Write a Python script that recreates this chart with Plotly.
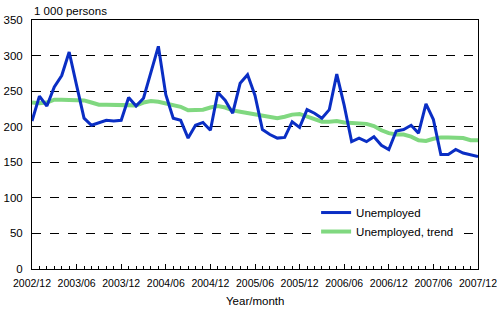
import plotly.graph_objects as go

months = []
for y in range(2002, 2008):
    for m in range(1, 13):
        if (y == 2002 and m < 12):
            continue
        months.append(f"{y}/{m:02d}")

unemployed = [208, 243, 229, 256, 272, 305, 258, 212, 202, 206, 209, 208,
              209, 241, 229, 240, 275, 313, 245, 212, 209, 184, 202, 206,
              195, 248, 237, 219, 261, 273, 244, 196, 189, 184, 185, 207,
              199, 224, 219, 212, 224, 274, 230, 179, 184, 179, 186, 174,
              168, 194, 196, 202, 191, 232, 210, 161, 161, 168, 163, 161,
              158]

trend = [234, 233, 234, 238, 238, 238, 238, 237, 234, 231, 231, 231,
         231, 230, 230, 234, 236, 235, 233, 230, 228, 223, 223, 224,
         227, 229, 227, 223, 221, 219, 217, 216, 214, 212, 214, 217,
         218, 214, 210, 207, 207, 208, 206, 205, 205, 204, 201, 195,
         191, 189, 189, 186, 181, 180, 183, 185, 185, 185, 184, 181,
         181]

tick_labels = ["2002/12", "2003/06", "2003/12", "2004/06", "2004/12", "2005/06",
               "2005/12", "2006/06", "2006/12", "2007/06", "2007/12"]

idx = list(range(len(months)))
tick_pos = [months.index(t) for t in tick_labels]

fig = go.Figure()
fig.add_trace(go.Scatter(x=idx, y=trend, mode="lines", name="Unemployed, trend",
                         line=dict(color="#80d880", width=4)))
fig.add_trace(go.Scatter(x=idx, y=unemployed, mode="lines", name="Unemployed",
                         line=dict(color="#0a2ec4", width=3)))

font = dict(family="Liberation Sans, Arial, sans-serif", size=11, color="black")

fig.update_layout(
    width=497, height=312,
    margin=dict(l=32, r=19, t=20, b=43),
    paper_bgcolor="white", plot_bgcolor="white",
    font=font,
    showlegend=True,
    legend=dict(x=0.637, y=0.285, xanchor="left", yanchor="top",
                bgcolor="white", borderwidth=0, font=dict(size=11.5),
                traceorder="reversed", itemwidth=30, tracegroupgap=0),
    annotations=[
        dict(text="1 000 persons", xref="paper", yref="paper", x=0, y=1.0,
             xanchor="left", yanchor="bottom", showarrow=False, font=dict(size=11.5), yshift=1),
        dict(text="Year/month", xref="paper", yref="paper", x=0.5, y=-0.128,
             xanchor="center", yanchor="middle", showarrow=False, font=dict(size=11.5)),
    ],
)
fig.update_xaxes(
    range=[0, 60], tickmode="array", tickvals=tick_pos, ticktext=tick_labels,
    ticks="inside", ticklen=5, tickcolor="black", showgrid=False, zeroline=False,
    showline=True, linecolor="black", linewidth=1, mirror=True,
    minor=dict(ticks="inside", ticklen=3, tickcolor="black", tickmode="linear", tick0=0, dtick=1),
    tickfont=dict(size=10.5), ticklabeloverflow="allow", ticklabelstandoff=4,
    automargin=False,
)
fig.update_yaxes(
    range=[0, 350], dtick=50, tick0=0, showgrid=True, gridcolor="black",
    griddash="dash", gridwidth=1, zeroline=False,
    showline=True, linecolor="black", linewidth=1, mirror=True,
    ticks="", tickfont=dict(size=11.5), ticklabelstandoff=6,
    automargin=False,
)

fig.write_html("out.html")
